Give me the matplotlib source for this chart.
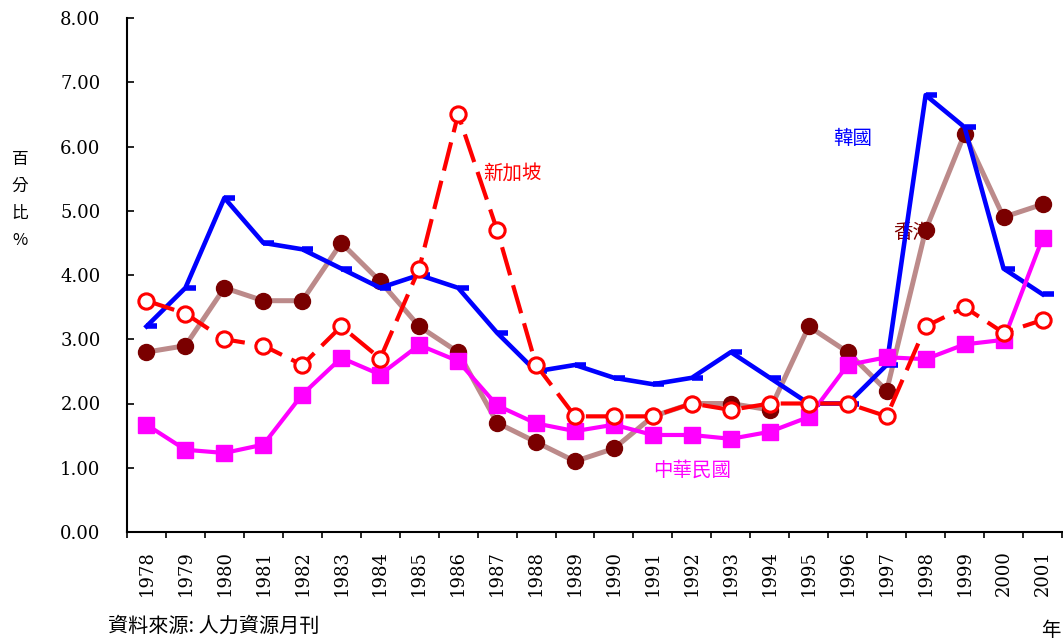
import numpy as np
import matplotlib
matplotlib.use("Agg")
import matplotlib.pyplot as plt
from matplotlib.path import Path

plt.rcParams['font.family'] = ['Noto Sans CJK TC', 'DejaVu Sans']

years = [str(y) for y in range(1978, 2002)]

# unemployment rate (%)
taiwan = [1.67, 1.28, 1.23, 1.36, 2.14, 2.71, 2.45, 2.91, 2.66, 1.97, 1.69, 1.57,
          1.67, 1.51, 1.51, 1.45, 1.56, 1.79, 2.60, 2.72, 2.69, 2.92, 2.99, 4.57]
korea = [3.2, 3.8, 5.2, 4.5, 4.4, 4.1, 3.8, 4.0, 3.8, 3.1, 2.5, 2.6,
         2.4, 2.3, 2.4, 2.8, 2.4, 2.0, 2.0, 2.6, 6.8, 6.3, 4.1, 3.7]
hongkong = [2.8, 2.9, 3.8, 3.6, 3.6, 4.5, 3.9, 3.2, 2.8, 1.7, 1.4, 1.1,
            1.3, 1.8, 2.0, 2.0, 1.9, 3.2, 2.8, 2.2, 4.7, 6.2, 4.9, 5.1]
singapore = [3.6, 3.4, 3.0, 2.9, 2.6, 3.2, 2.7, 4.1, 6.5, 4.7, 2.6, 1.8,
             1.8, 1.8, 2.0, 1.9, 2.0, 2.0, 2.0, 1.8, 3.2, 3.5, 3.1, 3.3]

yticks = [0, 1, 2, 3, 4, 5, 6, 7, 8]

x = np.arange(len(years))

fig = plt.figure(figsize=(10.63, 6.44), dpi=100)
ax = fig.add_axes([127 / 1063, 1 - 532 / 644, (1062 - 127) / 1063, (532 - 18) / 644])

# excel-style dash marker sitting to the right of the point
dash_marker = Path([(0, 0), (1, 0)], [Path.MOVETO, Path.LINETO])

ax.plot(x, hongkong, color='#bc8a8a', lw=3.6, marker='o', ms=11.5,
        mfc='#7a0000', mec='#7a0000', zorder=3)
ax.plot(x, korea, color='#0000ff', lw=3.3, marker=dash_marker, ms=16,
        mew=4, mec='#0000ff', zorder=4)
ax.plot(x, taiwan, color='#ff00ff', lw=3.0, marker='s', ms=11,
        mfc='#ff00ff', mec='#ff00ff', zorder=5)
ax.plot(x, singapore, color='#ff0000', lw=3.0, ls=(0, (7, 2.5)), marker='o', ms=11,
        mfc='white', mec='#ff0000', mew=2.2, zorder=6)

ax.text(8.63, 5.59, '新加坡', color='#ff0000', fontsize=14, va='center', ha='left', zorder=1)
ax.text(17.62, 6.12, '韓國', color='#0000ff', fontsize=14, va='center', ha='left', zorder=1)
ax.text(19.16, 4.66, '香港', color='#800000', fontsize=14, va='center', ha='left', zorder=1)
ax.text(13.01, 0.96, '中華民國', color='#ff00ff', fontsize=14, va='center', ha='left', zorder=1)

ax.set_xlim(-0.5, len(years) - 0.5)
ax.set_ylim(0, 8)

num_font = dict(family='DejaVu Serif', size=13)
ax.set_yticks(yticks)
ax.set_yticklabels([f'{v:.2f}' for v in yticks], fontdict=num_font)
ax.tick_params(axis='y', direction='in', length=5, width=1.2, pad=19)

# tick marks between categories, labels on the categories
ax.set_xticks(np.arange(-0.5, len(years), 1))
ax.set_xticklabels([])
ax.set_xticks(x, minor=True)
ax.set_xticklabels(years, minor=True, rotation=90, fontdict=num_font)
ax.tick_params(axis='x', which='major', direction='out', length=4, width=1.2)
ax.tick_params(axis='x', which='minor', length=0, pad=13)

for s in ['top', 'right']:
    ax.spines[s].set_visible(False)
for s in ['left', 'bottom']:
    ax.spines[s].set_linewidth(1.5)

fig.text(20 / 1063, 1 - 200 / 644, '百\n分\n比\n%', fontsize=12, ha='center', va='center',
         linespacing=1.75)
fig.text(108 / 1063, 1 - 626 / 644, '資料來源: 人力資源月刊', fontsize=14.5, ha='left', va='center')
fig.text(1041 / 1063, 1 - 630 / 644, '年', fontsize=14, ha='left', va='center')

fig.savefig('out.png', dpi=100)
